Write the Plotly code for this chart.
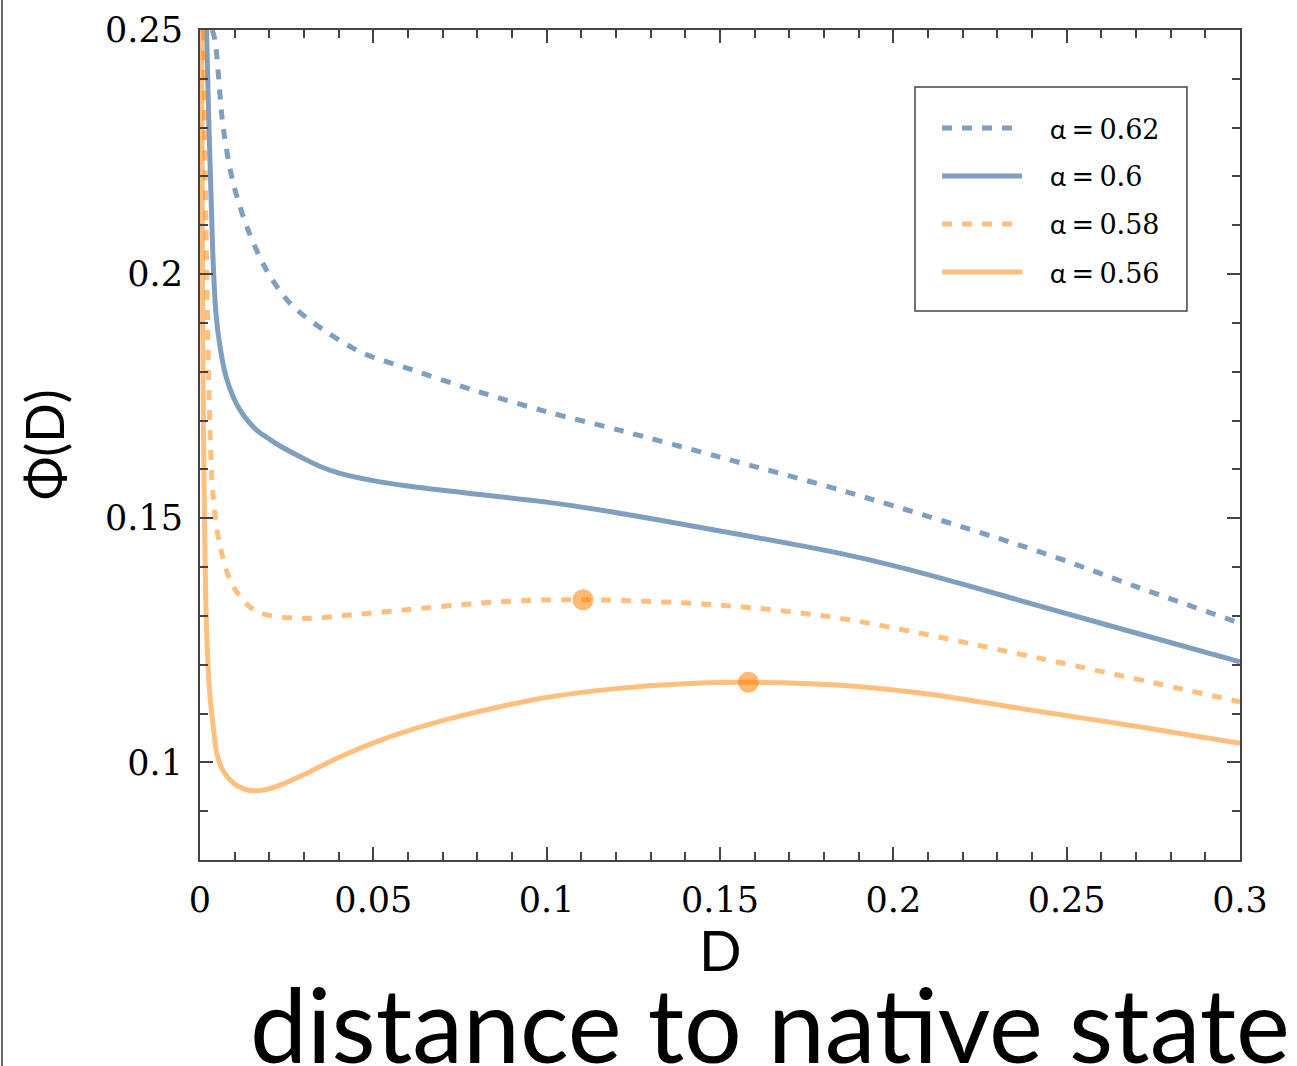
import plotly.graph_objects as go

# Free-energy profiles Phi(D) for several alpha values
alpha_values = ["0.62", "0.6", "0.58", "0.56"]

d_a062 = [0.0035, 0.0043, 0.0067, 0.0096, 0.0139, 0.0192, 0.026, 0.0356, 0.047, 0.0586,
          0.08, 0.1, 0.1212, 0.15, 0.1865, 0.2423, 0.27, 0.3]
phi_a062 = [0.250, 0.248, 0.230, 0.2186, 0.209, 0.2008, 0.194, 0.1886, 0.1838, 0.181,
            0.176, 0.1718, 0.168, 0.1625, 0.1554, 0.1431, 0.136, 0.1285]

d_a060 = [0.0019, 0.0024, 0.0029, 0.0034, 0.0038, 0.0046, 0.0058, 0.0075, 0.0095, 0.0115,
          0.014, 0.0164, 0.02, 0.0231, 0.03, 0.035, 0.0404, 0.05, 0.06, 0.08, 0.1, 0.1154,
          0.15, 0.1846, 0.2, 0.22, 0.2423, 0.27, 0.3]
phi_a060 = [0.25, 0.235, 0.2227, 0.211, 0.2023, 0.192, 0.185, 0.179, 0.175, 0.1722,
            0.1698, 0.168, 0.1662, 0.1648, 0.1622, 0.1605, 0.1592, 0.1577, 0.1566, 0.1549, 0.1533,
            0.1517, 0.1474, 0.1428, 0.1403, 0.1365, 0.1320, 0.1265, 0.1206]

d_a058 = [0.001, 0.0019, 0.0029, 0.0038, 0.0058, 0.0096, 0.0164, 0.0298, 0.0433, 0.0587,
          0.0865, 0.1105, 0.15, 0.1846, 0.2423, 0.3]
phi_a058 = [0.25, 0.202, 0.168, 0.1544, 0.1442, 0.136, 0.1309, 0.1295, 0.1302, 0.1312,
            0.1329, 0.1333, 0.1322, 0.1295, 0.1213, 0.1124]

d_a056 = [0.0005, 0.0007, 0.001, 0.0014, 0.0019, 0.0029, 0.0038, 0.0048, 0.0065, 0.0087,
          0.011, 0.0139, 0.017, 0.02, 0.024, 0.03, 0.04, 0.05, 0.0606, 0.0735, 0.0865,
          0.1, 0.12, 0.14, 0.1582, 0.1846, 0.21, 0.2423, 0.27, 0.3]
phi_a056 = [0.25, 0.2, 0.168, 0.145, 0.127, 0.1134, 0.1075, 0.102, 0.0985, 0.0964,
            0.0951, 0.0943, 0.0942, 0.0946, 0.0956, 0.0975, 0.101, 0.104, 0.1066, 0.1092, 0.1114,
            0.1133, 0.1151, 0.1161, 0.1164, 0.1158, 0.1140, 0.1104, 0.1074, 0.1039]

# Barrier tops (local maxima)
max_d = [0.1105, 0.1582]
max_phi = [0.1333, 0.1164]

x_tick_vals = [0, 0.05, 0.1, 0.15, 0.2, 0.25, 0.3]
x_tick_text = ["0", "0.05", "0.1", "0.15", "0.2", "0.25", "0.3"]
y_tick_vals = [0.1, 0.15, 0.2, 0.25]
y_tick_text = ["0.1", "0.15", "0.2", "0.25"]

BLUE = "#7f9ec0"
ORANGE = "rgba(255,128,0,0.5)"
DASH = "10px,10px"
LW = 5
SERIF = "DejaVu Serif"
SANS = "Lato"

fig = go.Figure()

curves = [
    (d_a062, phi_a062, BLUE, DASH),
    (d_a060, phi_a060, BLUE, "solid"),
    (d_a058, phi_a058, ORANGE, DASH),
    (d_a056, phi_a056, ORANGE, "solid"),
]
for i, (xs, ys, col, dash) in enumerate(curves):
    fig.add_trace(go.Scatter(
        x=xs, y=ys, mode="lines", name=f"α = {alpha_values[i]}", showlegend=False,
        line=dict(color=col, width=LW, dash=dash, shape="spline", smoothing=0.9),
    ))

fig.add_trace(go.Scatter(
    x=max_d, y=max_phi, mode="markers", showlegend=False,
    marker=dict(color="rgba(255,128,0,0.55)", size=21, line=dict(width=0)),
))

minor_ticks = dict(dtick=0.01, tick0=0, ticklen=8, tickwidth=2, tickcolor="#444", ticks="inside")
axis_common = dict(
    showline=True, linecolor="#444", linewidth=2, mirror="ticks",
    ticks="inside", ticklen=13, tickwidth=2, tickcolor="#444",
    showgrid=False, zeroline=False,
    tickfont=dict(family=SERIF, size=35, color="#000"),
    ticklabelstandoff=8, minor=minor_ticks,
)

fig.update_xaxes(range=[0, 0.3], tickvals=x_tick_vals, ticktext=x_tick_text, **axis_common)
fig.update_yaxes(range=[0.08, 0.25], tickvals=y_tick_vals, ticktext=y_tick_text, **axis_common)

# Axis titles
fig.add_annotation(
    text="D", xref="paper", yref="paper", x=0.5, y=-0.108, xanchor="center", yanchor="middle",
    showarrow=False, font=dict(family=SANS, size=56, color="#000"),
)
fig.add_annotation(
    text="Φ(D)", xref="paper", yref="paper", x=-0.15, y=0.5, xanchor="center", yanchor="middle",
    textangle=-90, showarrow=False, font=dict(family=SANS, size=52, color="#000"),
)
fig.add_annotation(
    text="distance to native state", xref="paper", yref="paper", x=0.548, y=-0.274,
    xanchor="center", yanchor="bottom", showarrow=False,
    font=dict(family=SANS, size=102, color="#000"),
)

# Legend box with line samples and labels
LEG_X0, LEG_X1, LEG_Y0, LEG_Y1 = 0.6875, 0.949, 0.6614, 0.9313
fig.add_shape(type="rect", xref="paper", yref="paper", x0=LEG_X0, x1=LEG_X1, y0=LEG_Y0, y1=LEG_Y1,
              line=dict(color="#444", width=1.5), fillcolor="white", layer="above")
row_y = [0.8819, 0.8241, 0.7663, 0.7084]
for i, (_, _, col, dash) in enumerate(curves):
    fig.add_shape(type="line", xref="paper", yref="paper", x0=0.7135, x1=0.7904,
                  y0=row_y[i], y1=row_y[i], line=dict(color=col, width=LW, dash=dash), layer="above")
    fig.add_annotation(
        text=f'<span style="font-family:{SANS}">α</span>\u2009=\u2009{alpha_values[i]}',
        xref="paper", yref="paper", x=0.8154, y=row_y[i], xanchor="left", yanchor="middle",
        showarrow=False, font=dict(family=SERIF, size=27, color="#000"),
    )

# thin border line at the left page edge
fig.add_shape(type="line", xref="paper", yref="paper", x0=-0.1904, x1=-0.1904, y0=-0.25, y1=1.04,
              line=dict(color="#666", width=2))

fig.update_layout(
    width=1297, height=1066,
    margin=dict(l=200, r=57, t=30, b=206, autoexpand=False),
    paper_bgcolor="white", plot_bgcolor="white",
    showlegend=False,
)

fig.write_html("out.html")
